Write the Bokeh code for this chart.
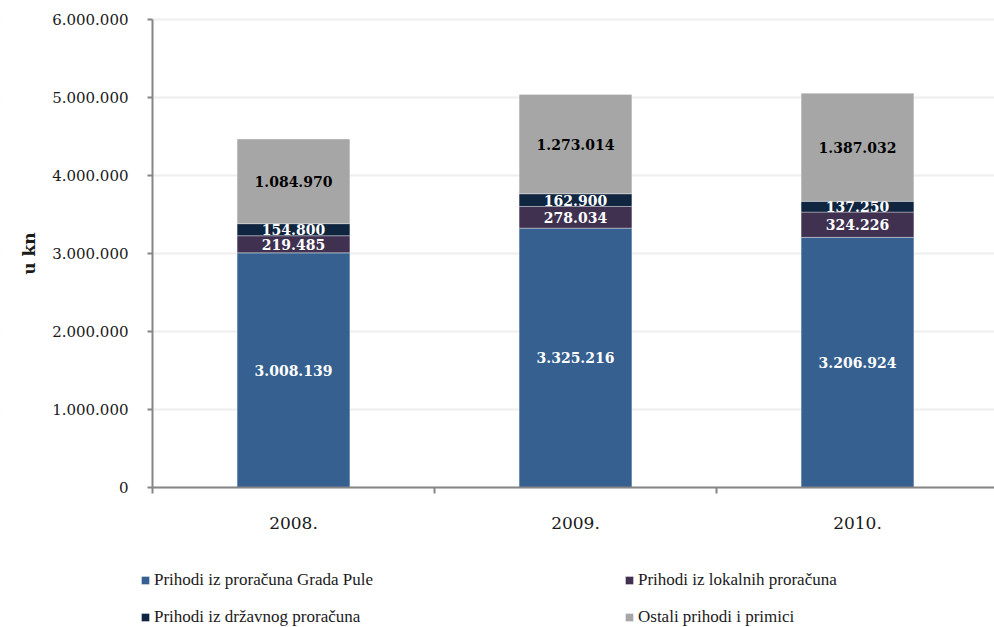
from bokeh.plotting import figure
from bokeh.models import Range1d, FixedTicker, Legend, LegendItem, ColumnDataSource, BoxAnnotation
from bokeh.core.properties import value
from bokeh.embed import file_html
from bokeh.resources import INLINE

# ---- data ----
years = ["2008.", "2009.", "2010."]
grad_pule = [3008139, 3325216, 3206924]
lokalni = [219485, 278034, 324226]
drzavni = [154800, 162900, 137250]
ostali = [1084970, 1273014, 1387032]
series_names = ["Prihodi iz proračuna Grada Pule", "Prihodi iz lokalnih proračuna",
                "Prihodi iz državnog proračuna", "Ostali prihodi i primici"]
y_ticks = [0, 1000000, 2000000, 3000000, 4000000, 5000000, 6000000]
y_tick_labels = ["0", "1.000.000", "2.000.000", "3.000.000", "4.000.000", "5.000.000", "6.000.000"]

colors = ["#36608F", "#403151", "#10253F", "#A6A6A6"]
label_colors = ["white", "white", "white", "black"]
AXIS = "#868686"

def fmt(v):
    return f"{v:,}".replace(",", ".")

xs = [1, 2, 3]
W, H, TOP = 994, 627, 19
PX_X = 282.0          # pixels per category
PX_Y = 468.0 / 6e6    # pixels per unit value
AX_X = 152            # pixel column of the value axis
x0 = 0.5 - AX_X / PX_X
y1 = 6e6 + TOP / PX_Y
y0 = y1 - H / PX_Y

p = figure(width=W, height=H, output_backend="svg", toolbar_location=None,
           x_range=Range1d(x0, x0 + W / PX_X), y_range=Range1d(y0, y1),
           min_border=0, min_border_left=0, min_border_right=0,
           min_border_top=0, min_border_bottom=0)
p.outline_line_color = None
p.background_fill_color = "white"

p.xgrid.grid_line_color = None
p.ygrid.ticker = FixedTicker(ticks=y_ticks)
p.ygrid.grid_line_color = "#EEEEEE"
p.ygrid.grid_line_width = 2
# keep the gridlines to the right of the value axis
p.add_layout(BoxAnnotation(right=0.5, fill_color="white", fill_alpha=1.0,
                           line_color=None, level="underlay"))

series = [grad_pule, lokalni, drzavni, ostali]
bottoms = [0, 0, 0]
renderers = []
for vals, col, lc in zip(series, colors, label_colors):
    tops = [b + v for b, v in zip(bottoms, vals)]
    src = ColumnDataSource(dict(x=xs, bottom=bottoms, top=tops,
                                mid=[(b + t) / 2 for b, t in zip(bottoms, tops)],
                                lab=[fmt(v) for v in vals]))
    r = p.vbar(x="x", bottom="bottom", top="top", width=0.4, source=src,
               fill_color=col, line_color="white", line_alpha=0.35, line_width=1)
    renderers.append(r)
    p.text(x="x", y="mid", text="lab", source=src, text_align="center", text_baseline="middle",
           text_font=value("DejaVu Serif"), text_font_style="bold", text_font_size="14px",
           text_color=lc)
    bottoms = tops

# y axis
ya = p.yaxis[0]
ya.fixed_location = 0.5
ya.bounds = (0, 6000000)
ya.ticker = FixedTicker(ticks=y_ticks, minor_ticks=[])
ya.major_label_overrides = {t: l for t, l in zip(y_ticks, y_tick_labels)}
ya.major_label_text_font = "DejaVu Serif"
ya.major_label_text_font_size = "15px"
ya.major_label_text_color = "#1a1a1a"
ya.major_label_standoff = 19
ya.axis_line_color = AXIS
ya.axis_line_width = 2
ya.major_tick_line_color = AXIS
ya.major_tick_line_width = 2
ya.major_tick_out = 5
ya.major_tick_in = 0
ya.axis_label = "u kn"
ya.axis_label_text_font = "DejaVu Serif"
ya.axis_label_text_font_style = "bold"
ya.axis_label_text_font_size = "17px"
ya.axis_label_text_color = "#1a1a1a"
ya.axis_label_standoff = 10

# x axis
xa = p.xaxis[0]
xa.fixed_location = 0
xa.bounds = (0.5, 3.5)
xa.ticker = FixedTicker(ticks=xs, minor_ticks=[0.5, 1.5, 2.5, 3.5])
xa.major_label_overrides = {x: y for x, y in zip(xs, years)}
xa.major_label_text_font = "DejaVu Serif"
xa.major_label_text_font_size = "17px"
xa.major_label_text_color = "#1a1a1a"
xa.major_label_standoff = 23
xa.major_tick_out = 0
xa.major_tick_in = 0
xa.minor_tick_out = 6
xa.minor_tick_in = 0
xa.minor_tick_line_color = AXIS
xa.minor_tick_line_width = 2
xa.axis_line_color = AXIS
xa.axis_line_width = 2

legend = Legend(items=[LegendItem(label=n, renderers=[r]) for n, r in zip(series_names, renderers)],
                location=(140, 0), ncols=2, orientation="horizontal",
                glyph_width=10, glyph_height=10, label_height=10, label_width=453,
                label_standoff=4, spacing=17, padding=0, margin=0,
                border_line_color=None, background_fill_alpha=0,
                label_text_font="Liberation Serif", label_text_font_size="17px",
                label_text_color="#1a1a1a")
p.add_layout(legend, "center")

open("out.html", "w").write(file_html(p, INLINE))
